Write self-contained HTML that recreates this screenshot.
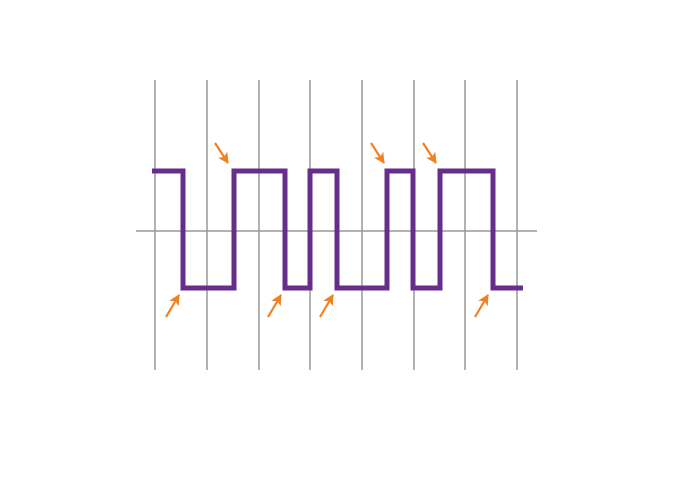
<!DOCTYPE html>
<html><head><meta charset="utf-8"><style>html,body{margin:0;padding:0;background:#fff}svg{display:block}</style></head>
<body>
<svg width="680" height="490" viewBox="0 0 680 490" xmlns="http://www.w3.org/2000/svg">
<defs>
<marker id="ah" viewBox="0 0 10 10" refX="9" refY="5" markerWidth="5" markerHeight="5" orient="auto" markerUnits="strokeWidth">
<path d="M0,0 L10,5 L0,10 L2.5,5 Z" fill="#f28023"/>
</marker>
</defs>
<g stroke="#999" stroke-width="1.5">
<line x1="155" y1="80" x2="155" y2="370"/>
<line x1="207" y1="80" x2="207" y2="370"/>
<line x1="259" y1="80" x2="259" y2="370"/>
<line x1="310" y1="80" x2="310" y2="370"/>
<line x1="362" y1="80" x2="362" y2="370"/>
<line x1="414" y1="80" x2="414" y2="370"/>
<line x1="465" y1="80" x2="465" y2="370"/>
<line x1="517" y1="80" x2="517" y2="370"/>
<line x1="136" y1="231" x2="537" y2="231"/>
</g>
<polyline fill="none" stroke="#662d8c" stroke-width="5" stroke-linejoin="miter"
points="152,171 183,171 183,288 234,288 234,171 285,171 285,288 310,288 310,171 337,171 337,288 387,288 387,171 413,171 413,288 440,288 440,171 493,171 493,288 523,288"/>
<g stroke="#f28023" stroke-width="2.2" marker-end="url(#ah)">
<line x1="215" y1="143" x2="228" y2="163"/>
<line x1="371" y1="143" x2="384" y2="163"/>
<line x1="423" y1="143" x2="436" y2="163"/>
<line x1="166" y1="317" x2="179" y2="295"/>
<line x1="268" y1="317" x2="281" y2="295"/>
<line x1="320" y1="317" x2="333" y2="295"/>
<line x1="475" y1="317" x2="488" y2="295"/>
</g>
</svg>
</body></html>
